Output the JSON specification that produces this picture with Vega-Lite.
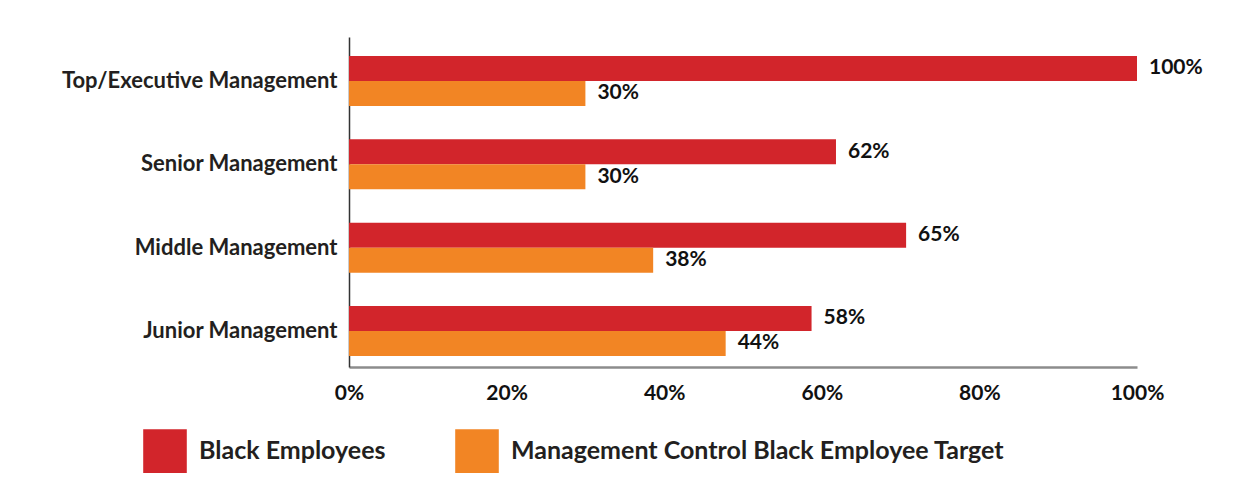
{
  "$schema": "https://vega.github.io/schema/vega-lite/v6.json",
  "width": 788,
  "height": 330,
  "autosize": {"type": "none"},
  "padding": {"left": 349, "top": 37, "right": 114, "bottom": 117},
  "background": "white",
  "config": {"view": {"stroke": null}, "font": "Lato"},
  "data": {
    "values": [
      {"level": "Top/Executive Management", "series": "Black Employees", "value": 1.0, "label": "100%"},
      {"level": "Top/Executive Management", "series": "Management Control Black Employee Target", "value": 0.30, "label": "30%"},
      {"level": "Senior Management", "series": "Black Employees", "value": 0.618, "label": "62%"},
      {"level": "Senior Management", "series": "Management Control Black Employee Target", "value": 0.30, "label": "30%"},
      {"level": "Middle Management", "series": "Black Employees", "value": 0.707, "label": "65%"},
      {"level": "Middle Management", "series": "Management Control Black Employee Target", "value": 0.386, "label": "38%"},
      {"level": "Junior Management", "series": "Black Employees", "value": 0.587, "label": "58%"},
      {"level": "Junior Management", "series": "Management Control Black Employee Target", "value": 0.478, "label": "44%"}
    ]
  },
  "encoding": {
    "y": {
      "field": "level",
      "type": "nominal",
      "sort": ["Top/Executive Management", "Senior Management", "Middle Management", "Junior Management"],
      "scale": {"paddingInner": 0.4, "paddingOuter": 0.18, "align": 0.633},
      "axis": {
        "title": null,
        "ticks": false,
        "labelPadding": 12,
        "labelFontSize": 22,
        "labelFontWeight": "bold",
        "labelColor": "#231f20",
        "labelLimit": 0,
        "domainColor": "#333333",
        "domainWidth": 1.5
      }
    },
    "yOffset": {
      "field": "series",
      "type": "nominal",
      "sort": ["Black Employees", "Management Control Black Employee Target"]
    },
    "x": {
      "field": "value",
      "type": "quantitative",
      "scale": {"domain": [0, 1], "nice": false},
      "axis": {
        "title": null,
        "values": [0, 0.2, 0.4, 0.6, 0.8, 1.0],
        "format": ".0%",
        "grid": false,
        "ticks": false,
        "labelFlush": false,
        "labelFontSize": 21,
        "labelFontWeight": "bold",
        "labelColor": "#111111",
        "labelPadding": 15,
        "domainColor": "#8c8c8c",
        "domainWidth": 2.5
      }
    }
  },
  "layer": [
    {
      "mark": {"type": "bar"},
      "encoding": {
        "color": {
          "field": "series",
          "type": "nominal",
          "sort": ["Black Employees", "Management Control Black Employee Target"],
          "scale": {
            "domain": ["Black Employees", "Management Control Black Employee Target"],
            "range": ["#d2252b", "#f28524"]
          },
          "legend": {
            "title": null,
            "orient": "none",
            "direction": "horizontal",
            "legendX": -206,
            "legendY": 392,
            "symbolType": "square",
            "symbolSize": 1900,
            "symbolStrokeWidth": 0,
            "symbolOpacity": 1,
            "labelFontSize": 25,
            "labelFontWeight": "bold",
            "labelColor": "#231f20",
            "labelOffset": 12,
            "labelLimit": 0,
            "columnPadding": 69
          }
        }
      }
    },
    {
      "mark": {"type": "text", "align": "left", "baseline": "middle", "dx": 12, "fontSize": 21, "fontWeight": "bold", "color": "#111111"},
      "encoding": {"text": {"field": "label", "type": "nominal"}}
    }
  ]
}
